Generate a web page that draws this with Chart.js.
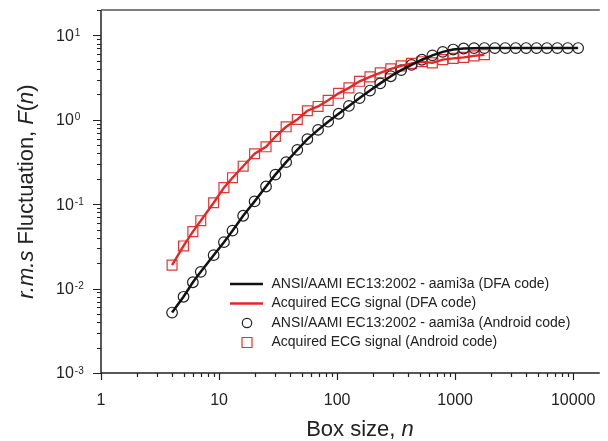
<!DOCTYPE html>
<html><head><meta charset="utf-8">
<script src="https://cdn.jsdelivr.net/npm/chart.js@4.4.1/dist/chart.umd.min.js"></script>
<style>html,body{margin:0;padding:0;background:#fff;}canvas{display:block;}</style>
</head><body>
<canvas id="c" width="608" height="441"></canvas>
<script>
// ---- data ----
const boxSizes = [4,5,6,7,9,11,13,16,20,25,30,37,46,56,69,84,103,126,155,190,
  232,285,349,427,523,641,785,962,1180,1445,1770,2168,2656,3256,3990,4887,5985,7333,8988,11015];
const ansiF = [0.0052,0.0080,0.0119,0.0158,0.0249,0.0355,0.0486,0.073,0.108,0.162,
  0.224,0.315,0.44,0.59,0.76,0.95,1.18,1.46,1.81,2.22,
  2.70,3.28,3.88,4.48,5.15,5.80,6.38,6.80,7.00,7.06,
  7.08,7.08,7.08,7.08,7.08,7.08,7.08,7.08,7.08,7.08];
const ecgBoxSizes = boxSizes.slice(0, 31);
const ecgF = [0.0190,0.032,0.0473,0.0638,0.104,0.157,0.206,0.282,0.396,0.479,
  0.634,0.826,1.01,1.28,1.44,1.70,2.06,2.39,2.86,3.23,
  3.60,4.01,4.35,4.66,4.88,4.73,5.16,5.34,5.49,5.72,5.91];
const xTickValues = [1,10,100,1000,10000];
const xTickLabels = ['1','10','100','1000','10000'];
const yTickValues = [0.001,0.01,0.1,1,10];
const yTickExponents = ['-3','-2','-1','0','1'];
const seriesLabels = [
  'ANSI/AAMI EC13:2002 - aami3a (DFA code)',
  'Acquired ECG signal (DFA code)',
  'ANSI/AAMI EC13:2002 - aami3a (Android code)',
  'Acquired ECG signal (Android code)'
];

const FONT = '"Liberation Sans", Arial, sans-serif';
const RED = '#e42626';
const BLACK = '#111';
const pts = (xs, ys) => xs.map((x, i) => ({x, y: ys[i]}));

const decorPlugin = {
  id: 'decor',
  afterDraw(chart) {
    const ctx = chart.ctx, a = chart.chartArea;
    const xs = chart.scales.x, ys = chart.scales.y;
    ctx.save();
    ctx.strokeStyle = '#222'; ctx.fillStyle = '#222';
    ctx.lineWidth = 1.5;
    ctx.beginPath();
    ctx.moveTo(a.left, a.top); ctx.lineTo(a.left, a.bottom); ctx.lineTo(a.right, a.bottom);
    ctx.stroke();
    ctx.strokeStyle = '#555';
    ctx.beginPath();
    ctx.moveTo(a.left, a.top); ctx.lineTo(a.right, a.top);
    ctx.stroke();
    ctx.strokeStyle = '#222';
    ctx.lineWidth = 1.2;
    ctx.beginPath();
    for (let e = -3; e <= 1; e++) {
      for (let m = 1; m <= 9; m++) {
        const v = m * Math.pow(10, e);
        if (v > ys.max + 1e-9) continue;
        const y = Math.round(ys.getPixelForValue(v)) + 0.5;
        const len = m === 1 ? 8 : 4;
        ctx.moveTo(a.left, y); ctx.lineTo(a.left - len, y);
      }
    }
    for (let e = 0; e <= 4; e++) {
      for (let m = 1; m <= 9; m++) {
        const v = m * Math.pow(10, e);
        if (v > xs.max) continue;
        const x = Math.round(xs.getPixelForValue(v)) + 0.5;
        const len = m === 1 ? 7 : 4;
        ctx.moveTo(x, a.bottom); ctx.lineTo(x, a.bottom + len);
      }
    }
    ctx.stroke();
    ctx.font = '16px ' + FONT;
    ctx.textAlign = 'center'; ctx.textBaseline = 'alphabetic';
    xTickValues.forEach((v, i) => {
      ctx.fillText(xTickLabels[i], xs.getPixelForValue(v), 405);
    });
    yTickValues.forEach((v, i) => {
      const y = ys.getPixelForValue(v);
      ctx.font = '16px ' + FONT;
      ctx.textAlign = 'left'; ctx.textBaseline = 'middle';
      ctx.fillText('10', 56, y + 1);
      const w = ctx.measureText('10').width;
      ctx.font = '10px ' + FONT; ctx.textBaseline = 'alphabetic';
      ctx.fillText(yTickExponents[i], 56 + w + 1, y + 0.5);
    });
    const measureParts = (parts, size) => {
      let total = 0;
      parts.forEach(p => { ctx.font = (p[1] ? 'italic ' : '') + size + 'px ' + FONT; p.w = ctx.measureText(p[0]).width; total += p.w; });
      return total;
    };
    const xParts = [['Box size, ', false], ['n', true]];
    const xw = measureParts(xParts, 22);
    let cx = 360 - xw / 2;
    ctx.textAlign = 'left'; ctx.textBaseline = 'alphabetic';
    xParts.forEach(p => { ctx.font = (p[1] ? 'italic ' : '') + '22px ' + FONT; ctx.fillText(p[0], cx, 436); cx += p.w; });
    const yParts = [['r.m.s', true], [' Fluctuation, ', false], ['F', true], ['(', false], ['n', true], [')', false]];
    const yw = measureParts(yParts, 22);
    ctx.save();
    ctx.translate(33, (a.top + a.bottom) / 2);
    ctx.rotate(-Math.PI / 2);
    let cy = -yw / 2;
    yParts.forEach(p => { ctx.font = (p[1] ? 'italic ' : '') + '22px ' + FONT; ctx.fillText(p[0], cy, 0); cy += p.w; });
    ctx.restore();
    const rows = [284, 303.5, 323, 342.5];
    ctx.font = '14px ' + FONT; ctx.textBaseline = 'middle'; ctx.textAlign = 'left';
    [0, 1, 2, 3].forEach((di, r) => {
      const ds = chart.data.datasets[di];
      const y = rows[r];
      if (ds.showLine !== false) {
        ctx.strokeStyle = ds.borderColor; ctx.lineWidth = ds.borderWidth;
        ctx.beginPath(); ctx.moveTo(230, y); ctx.lineTo(263, y); ctx.stroke();
      } else {
        ctx.strokeStyle = ds.pointBorderColor; ctx.lineWidth = ds.pointBorderWidth;
        ctx.beginPath();
        if (ds.pointStyle === 'rect') ctx.rect(242, y - 5, 10, 10);
        else ctx.arc(247, y, 4.7, 0, Math.PI * 2);
        ctx.stroke();
      }
      ctx.fillStyle = '#222';
      ctx.fillText(ds.label, 271.5, y);
    });
    ctx.restore();
  }
};

new Chart(document.getElementById('c'), {
  type: 'line',
  data: {
    datasets: [
      { label: seriesLabels[0], data: pts(boxSizes, ansiF), borderColor: BLACK, borderWidth: 2.5,
        pointRadius: 0, order: 0, tension: 0 },
      { label: seriesLabels[1], data: pts(ecgBoxSizes, ecgF), borderColor: RED, borderWidth: 2.4,
        pointRadius: 0, order: 0, tension: 0 },
      { label: seriesLabels[2], data: pts(boxSizes, ansiF), showLine: false, pointStyle: 'circle',
        pointRadius: 5.3, pointBorderColor: '#222', pointBackgroundColor: 'rgba(0,0,0,0)', pointBorderWidth: 1.2, order: 1 },
      { label: seriesLabels[3], data: pts(ecgBoxSizes, ecgF), showLine: false, pointStyle: 'rect',
        pointRadius: 7, pointBorderColor: '#e23636', pointBackgroundColor: 'rgba(0,0,0,0)', pointBorderWidth: 1.2, order: 1 }
    ]
  },
  options: {
    responsive: false, animation: false, devicePixelRatio: 1,
    layout: { padding: { left: 101, top: 10, right: 0, bottom: 68 } },
    plugins: { legend: { display: false }, tooltip: { enabled: false } },
    scales: {
      x: { type: 'logarithmic', min: 1, max: 16800, display: false },
      y: { type: 'logarithmic', min: 0.001, max: 20, display: false }
    },
    clip: false
  },
  plugins: [decorPlugin]
});
</script>
</body></html>
